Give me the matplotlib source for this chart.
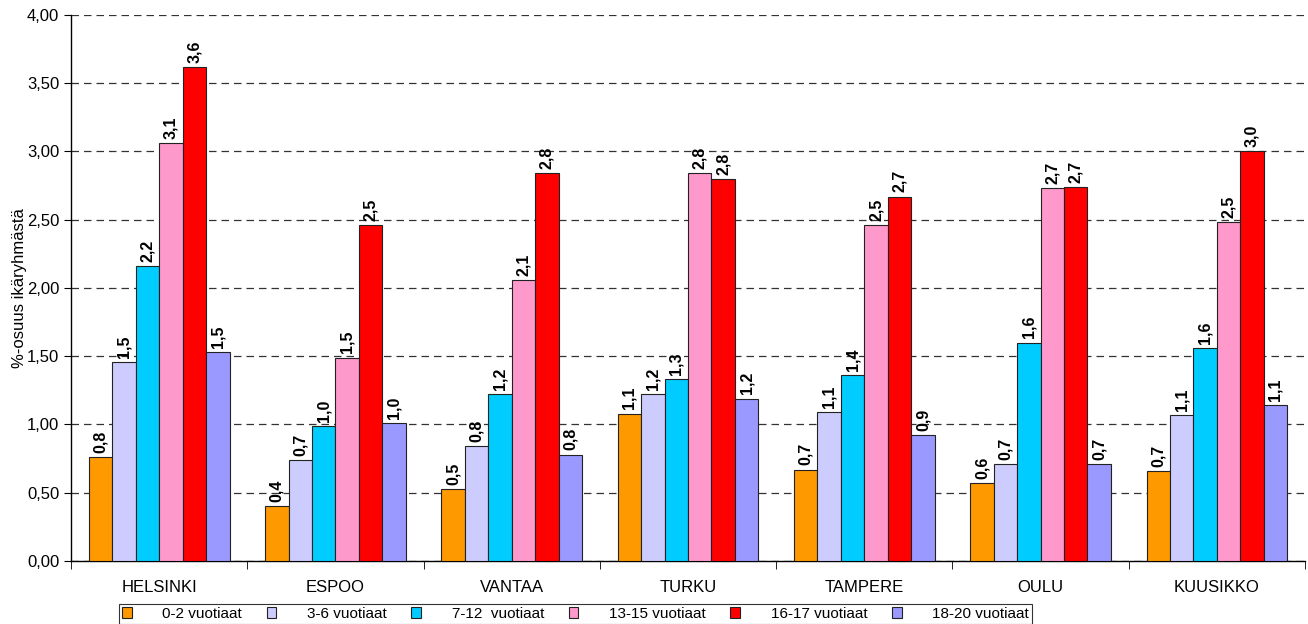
import numpy as np
import matplotlib.pyplot as plt
from matplotlib.ticker import FuncFormatter

plt.rcParams['font.family'] = ['Liberation Sans', 'DejaVu Sans']

cities = ["HELSINKI", "ESPOO", "VANTAA", "TURKU", "TAMPERE", "OULU", "KUUSIKKO"]
groups = ["0-2 vuotiaat", "3-6 vuotiaat", "7-12  vuotiaat", "13-15 vuotiaat",
          "16-17 vuotiaat", "18-20 vuotiaat"]

age_0_2 = [0.76, 0.40, 0.53, 1.08, 0.67, 0.57, 0.66]
age_3_6 = [1.46, 0.74, 0.84, 1.22, 1.09, 0.71, 1.07]
age_7_12 = [2.16, 0.99, 1.22, 1.33, 1.36, 1.60, 1.56]
age_13_15 = [3.06, 1.49, 2.06, 2.84, 2.46, 2.73, 2.48]
age_16_17 = [3.62, 2.46, 2.84, 2.80, 2.67, 2.74, 3.00]
age_18_20 = [1.53, 1.01, 0.78, 1.19, 0.92, 0.71, 1.14]

colors = ["#FF9900", "#CCCCFF", "#00CCFF", "#FF99CC", "#FF0000", "#9999FF"]

series = [age_0_2, age_3_6, age_7_12, age_13_15, age_16_17, age_18_20]

fig = plt.figure(figsize=(13.08, 6.24), dpi=100)
ax = fig.add_axes([0.0543, 0.101, 0.9434, 0.875])

x = np.arange(len(cities))
n = len(series)
w = 0.133
for i, vals in enumerate(series):
    pos = x + (i - (n - 1) / 2) * w
    bars = ax.bar(pos, vals, width=w, color=colors[i], edgecolor="#222222",
                  linewidth=0.8, label=groups[i], zorder=3)
    for b, v in zip(bars, vals):
        ax.text(b.get_x() + b.get_width() / 2, v + 0.03,
                f"{v:.1f}".replace(".", ","), rotation=90, ha="center",
                va="bottom", fontsize=11.5, fontweight="bold", zorder=4)

ax.set_xlim(-0.5, len(cities) - 0.5)
ax.set_ylim(0, 4)
ax.set_yticks(np.arange(0, 4.01, 0.5))
ax.yaxis.set_major_formatter(FuncFormatter(lambda v, p: f"{v:.2f}".replace(".", ",")))
ax.yaxis.grid(True, linestyle=(0, (6, 4)), color="#333333", linewidth=0.9, zorder=0)

ax.set_xticks(x)
ax.set_xticklabels(cities)
ax.set_xticks(np.arange(-0.5, len(cities)), minor=True)
ax.tick_params(axis="x", which="major", length=0, pad=14, labelsize=12)
ax.tick_params(axis="x", which="minor", length=6, direction="out")
ax.tick_params(axis="y", length=5, direction="out", labelsize=12)

for s in ["top", "right"]:
    ax.spines[s].set_visible(False)
ax.spines["left"].set_linewidth(1)
ax.spines["bottom"].set_linewidth(1)

ax.set_ylabel("%-osuus ikäryhmästä", fontsize=12, labelpad=0)

leg = ax.legend(loc="upper left", bbox_to_anchor=(0.0387, -0.078), ncol=6,
                frameon=True, fancybox=False, edgecolor="black", fontsize=11,
                handlelength=0.65, handleheight=0.7, columnspacing=1.6,
                handletextpad=2.0, borderpad=0.2, borderaxespad=0)
leg.get_frame().set_linewidth(0.8)

fig.savefig("out.png", dpi=100)
